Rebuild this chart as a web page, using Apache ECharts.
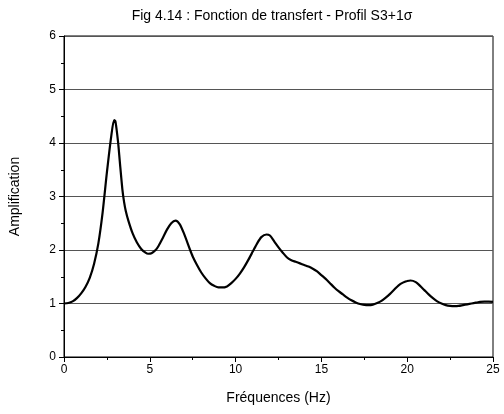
<!DOCTYPE html>
<html>
<head>
<meta charset="utf-8">
<script src="https://cdn.jsdelivr.net/npm/echarts@6/dist/echarts.min.js"></script>
<style>
  html, body { margin: 0; padding: 0; background: #fff; }
  #chart { width: 504px; height: 414px; }
</style>
</head>
<body>
<div id="chart"></div>
<script>
// Transfer function: frequency (Hz) vs amplification
const freq = [
  0, 0.25, 0.5, 0.75, 1.0, 1.25, 1.5, 1.75, 2.0, 2.25, 2.5, 2.75, 2.92, 3.0, 3.15, 3.25,
  3.4, 3.5, 3.6, 3.75, 4.0, 4.25, 4.5, 4.75, 4.9, 5.1, 5.34, 5.5, 5.75, 6.0, 6.25, 6.5, 6.75, 7.0,
  7.35, 7.5, 7.75, 8.0, 8.25, 8.5, 8.75, 9.0, 9.2, 9.5, 9.75, 10.0, 10.25, 10.5, 10.75, 11.0,
  11.25, 11.5, 11.8, 12.0, 12.25, 12.5, 12.75, 13.0, 13.25, 13.5, 13.75, 14.0, 14.25, 14.5,
  14.75, 15.0, 15.25, 15.5, 15.75, 16.0, 16.25, 16.5, 16.75, 17.0, 17.25, 17.5, 17.75, 18.0,
  18.25, 18.5, 18.75, 19.0, 19.25, 19.5, 19.75, 20.0, 20.2, 20.5, 20.75, 21.0, 21.25, 21.5,
  21.75, 22.0, 22.25, 22.5, 22.75, 23.0, 23.25, 23.5, 23.75, 24.0, 24.25, 24.5, 24.75, 25.0
];
const amplification = [
  1.00, 1.01, 1.04, 1.10, 1.19, 1.31, 1.48, 1.74, 2.12, 2.70, 3.45, 4.12, 4.43, 4.40, 4.02, 3.66,
  3.14, 2.90, 2.73, 2.55, 2.31, 2.14, 2.02, 1.95, 1.93, 1.94, 2.00, 2.07, 2.22, 2.38, 2.50, 2.55, 2.48, 2.30,
  2.00, 1.88, 1.72, 1.58, 1.47, 1.38, 1.33, 1.30, 1.30, 1.32, 1.38, 1.46, 1.56, 1.68, 1.82, 1.97,
  2.12, 2.24, 2.29, 2.27, 2.16, 2.05, 1.95, 1.86, 1.81, 1.78, 1.75, 1.72, 1.69, 1.65,
  1.60, 1.53, 1.46, 1.38, 1.30, 1.23, 1.17, 1.11, 1.06, 1.02, 0.99, 0.975, 0.97, 0.98,
  1.01, 1.05, 1.11, 1.18, 1.26, 1.34, 1.39, 1.42, 1.43, 1.40, 1.33, 1.25, 1.17, 1.10,
  1.04, 1.00, 0.97, 0.955, 0.95, 0.955, 0.97, 0.985, 1.00, 1.015, 1.03, 1.035, 1.035, 1.03
];
const xTicks = [0, 5, 10, 15, 20, 25];
const yTicks = [0, 1, 2, 3, 4, 5, 6];

const FONT = '"Liberation Sans", Arial, sans-serif';
const chart = echarts.init(document.getElementById('chart'), null, { renderer: 'canvas' });

chart.setOption({
  animation: false,
  backgroundColor: '#fff',
  title: {
    text: 'Fig 4.14 : Fonction de transfert - Profil S3+1\u03c3',
    left: 267, top: 4, textAlign: 'center',
    textStyle: { fontFamily: FONT, fontSize: 14, fontWeight: 'normal', color: '#000' }
  },
  grid: {
    left: 63, right: 11, top: 36, bottom: 57,
    show: true, borderColor: '#000', borderWidth: 1, containLabel: false
  },
  xAxis: {
    type: 'value',
    min: xTicks[0], max: xTicks[xTicks.length - 1], interval: 5,
    name: 'Fréquences (Hz)', nameLocation: 'middle', nameGap: 34,
    nameTextStyle: { fontFamily: FONT, fontSize: 14, color: '#000' },
    axisLine: { lineStyle: { color: '#000', width: 1 } },
    axisTick: { show: true, inside: false, length: 5, lineStyle: { color: '#000' } },
    minorTick: { show: true, splitNumber: 2, length: 3, lineStyle: { color: '#000' } },
    axisLabel: { fontFamily: FONT, fontSize: 12, color: '#000', margin: 7 },
    splitLine: { show: false }
  },
  yAxis: {
    type: 'value',
    min: yTicks[0], max: yTicks[yTicks.length - 1], interval: 1,
    name: 'Amplification', nameLocation: 'middle', nameGap: 42, nameRotate: 90,
    nameTextStyle: { fontFamily: FONT, fontSize: 14, color: '#000' },
    axisLine: { show: true, lineStyle: { color: '#000', width: 1 } },
    axisTick: { show: true, inside: false, length: 5, lineStyle: { color: '#000' } },
    minorTick: { show: true, splitNumber: 2, length: 3, lineStyle: { color: '#000' } },
    axisLabel: { fontFamily: FONT, fontSize: 12, color: '#000', margin: 8 },
    splitLine: { show: true, lineStyle: { color: '#555', width: 1 } }
  },
  series: [{
    type: 'line',
    data: freq.map((f, i) => [f, amplification[i]]),
    smooth: 0.25,
    showSymbol: false,
    lineStyle: { color: '#000', width: 2.2 }
  }]
});
</script>
</body>
</html>
